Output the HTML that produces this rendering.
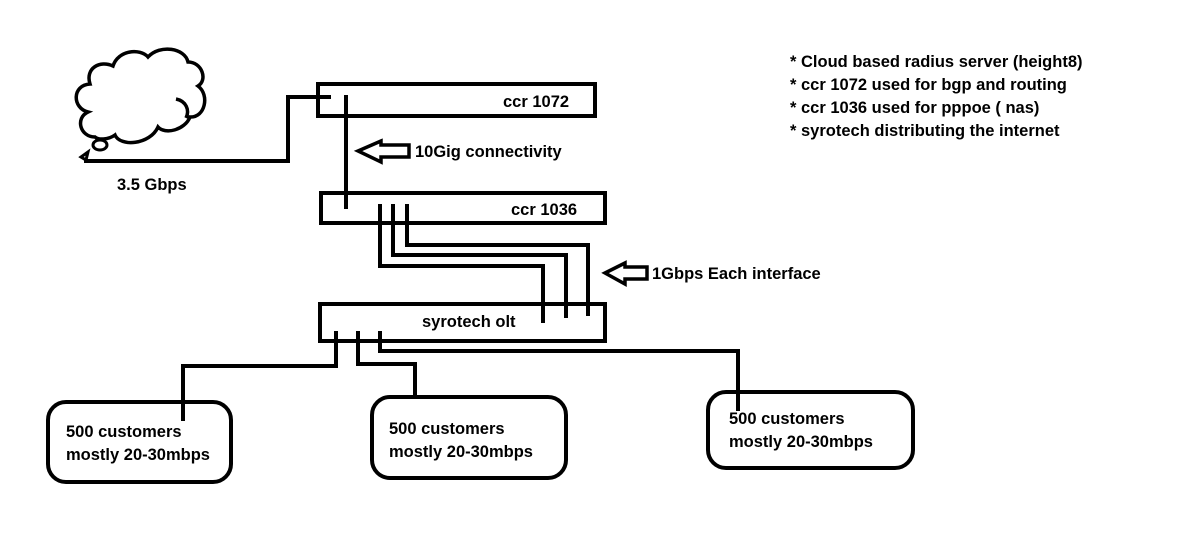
<!DOCTYPE html>
<html><head><meta charset="utf-8"><style>
html,body{margin:0;padding:0;background:#fff;}
svg{display:block;}
text{font-family:"Liberation Sans",sans-serif;font-weight:bold;font-size:16.5px;fill:#000;}
</style></head><body>
<svg width="1187" height="552" viewBox="0 0 1187 552" xmlns="http://www.w3.org/2000/svg">
<g fill="none" stroke="#000" stroke-width="4" stroke-linejoin="miter">
<path d="M95,137 C80,137 75,118 88,112 C72,108 72,85 90,84 C85,68 100,60 113,66 C118,50 140,48 148,57 C160,44 185,48 188,62 C202,62 208,80 198,86 C210,95 205,118 190,117 C185,130 165,135 158,127 C150,145 120,147 115,135 C108,140 98,140 95,137 Z" stroke-width="3.5"/>
<path d="M176,99 C186,101 190,110 186,118" stroke-width="3.5"/>
<ellipse cx="100" cy="145" rx="7" ry="5" stroke-width="3"/>
<path d="M88,152 L81,157 L86,160 Z" stroke-width="3"/>
<polyline points="84,161 288,161 288,97 331,97"/>
<rect x="318" y="84" width="277" height="32"/>
<rect x="321" y="193" width="284" height="30"/>
<rect x="320" y="304" width="285" height="37"/>
<line x1="346" y1="95" x2="346" y2="209"/>
<polyline points="380,204 380,266 543,266 543,323"/>
<polyline points="393,204 393,255 566,255 566,318"/>
<polyline points="407,204 407,245 588,245 588,316"/>
<polyline points="336,331 336,366 183,366 183,421"/>
<polyline points="358,331 358,364 415,364 415,397"/>
<polyline points="380,331 380,351 738,351 738,411"/>
<rect x="48" y="402" width="183" height="80" rx="18"/>
<rect x="372" y="397" width="194" height="81" rx="18"/>
<rect x="708" y="392" width="205" height="76" rx="18"/>
<path d="M358,151 L381,141 L381,145 L409,145 L409,157 L381,157 L381,162 Z" stroke-width="3.5"/>
<path d="M605,273 L625,263 L625,267 L647,267 L647,279 L625,279 L625,284 Z" stroke-width="3.5"/>
</g>
<text x="503" y="107">ccr 1072</text>
<text x="511" y="215">ccr 1036</text>
<text x="422" y="327">syrotech olt</text>
<text x="117" y="190">3.5 Gbps</text>
<text x="415" y="157">10Gig connectivity</text>
<text x="652" y="279">1Gbps Each interface</text>
<text x="66" y="437">500 customers</text>
<text x="66" y="460">mostly 20-30mbps</text>
<text x="389" y="434">500 customers</text>
<text x="389" y="457">mostly 20-30mbps</text>
<text x="729" y="424">500 customers</text>
<text x="729" y="447">mostly 20-30mbps</text>
<text x="790" y="67">* Cloud based radius server (height8)</text>
<text x="790" y="90">* ccr 1072 used for bgp and routing</text>
<text x="790" y="113">* ccr 1036 used for pppoe ( nas)</text>
<text x="790" y="136">* syrotech distributing the internet</text>
</svg>
</body></html>
